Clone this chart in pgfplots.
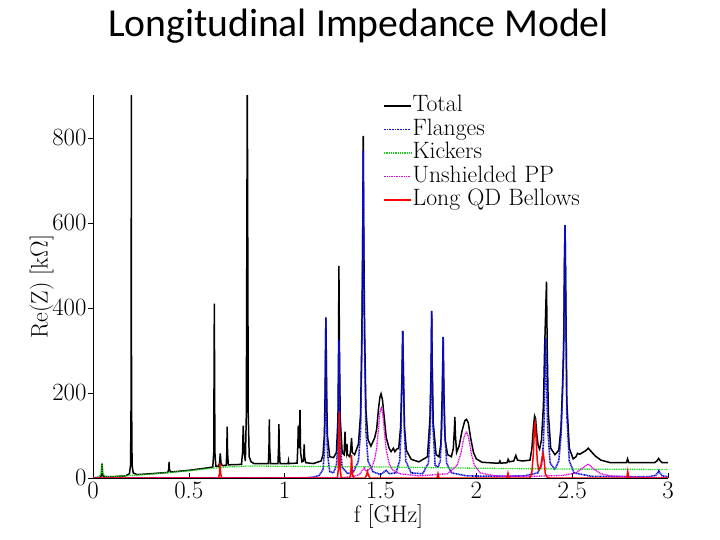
\documentclass[border=0pt]{standalone}
\usepackage{fontspec}
\newfontfamily\titlefont{Carlito}
\usepackage{pgfplots}
\pgfplotsset{compat=1.18}
\definecolor{flblue}{RGB}{10,10,220}
\definecolor{kgreen}{RGB}{20,210,20}
\definecolor{ppmag}{RGB}{220,0,220}
\begin{document}
\begin{tikzpicture}
\useasboundingbox (0,0) rectangle (720bp,540bp);
\node[anchor=base, font=\titlefont\fontsize{39.8}{42}\selectfont] at (358.5bp,503.3bp) {Longitudinal Impedance Model};
\begin{axis}[
  at={(93bp,62bp)}, anchor=south west,
  width=575bp, height=382.5bp, scale only axis,
  xmin=0, xmax=3, ymin=0, ymax=900,
  axis lines=left, axis line style={-, line width=0.6pt},
  xtick={0,0.5,1,1.5,2,2.5,3}, xticklabels={0,0.5,1,1.5,2,2.5,3},
  ytick={0,200,400,600,800},
  xtick align=inside, ytick align=outside,
  major tick length=5bp,
  tick style={black, line width=0.6pt},
  ticklabel style={font=\fontsize{25}{26}\selectfont},
  xticklabel style={yshift=-1bp},
  yticklabel style={xshift=2bp},
  xlabel={f [GHz]}, ylabel={Re(Z) [k$\Omega$]},
  label style={font=\fontsize{24}{25}\selectfont},
  xlabel style={yshift=2bp, xshift=8bp},
  ylabel style={yshift=-8bp},
  clip=true,
  legend cell align=left,
  legend style={draw=none, fill=none, at={(0.504,1.004)}, anchor=north west,
    font=\fontsize{23.8}{23.8}\selectfont, row sep=0pt, inner sep=0pt,
    nodes={inner sep=1bp, text height=16.5bp, text depth=5bp}},
  legend image code/.code={\draw[#1] (0bp,0bp) -- (27bp,0bp);},
]
% Total
\addplot[black, line width=1.5pt] coordinates {
(0,0) (0.04,2) (0.044,8) (0.047,34) (0.050,8) (0.055,3) (0.10,3) (0.17,5) (0.19,10) (0.196,30) (0.199,200) (0.200,950) (0.201,200) (0.204,30) (0.21,12) (0.23,8) (0.30,10) (0.39,13) (0.395,20) (0.397,38) (0.399,20) (0.405,14) (0.50,18) (0.60,24) (0.625,26) (0.630,60) (0.633,410) (0.636,60) (0.641,28) (0.655,28) (0.660,35) (0.664,58) (0.668,35) (0.675,29) (0.695,30) (0.698,60) (0.700,121) (0.702,60) (0.706,31) (0.775,32) (0.780,60) (0.784,123) (0.788,60) (0.795,40) (0.800,150) (0.805,950) (0.810,150) (0.815,50) (0.825,38) (0.84,34) (0.915,34) (0.918,70) (0.920,138) (0.922,70) (0.926,34) (0.965,34) (0.968,70) (0.970,127) (0.972,70) (0.976,34) (1.018,34) (1.020,40) (1.022,34) (1.065,35) (1.069,80) (1.071,123) (1.074,70) (1.077,90) (1.080,160) (1.083,60) (1.090,38) (1.098,40) (1.100,60) (1.102,79) (1.104,50) (1.110,36) (1.15,34) (1.19,40) (1.20,55) (1.207,100) (1.211,200) (1.213,300) (1.215,378) (1.217,300) (1.219,200) (1.223,100) (1.235,50) (1.255,48) (1.270,60) (1.278,140) (1.281,300) (1.283,499) (1.286,300) (1.290,140) (1.300,60) (1.310,55) (1.313,90) (1.315,109) (1.318,70) (1.322,60) (1.325,80) (1.328,55) (1.340,50) (1.345,70) (1.349,94) (1.353,60) (1.365,55) (1.385,80) (1.396,150) (1.403,350) (1.407,560) (1.410,805) (1.413,560) (1.417,350) (1.424,160) (1.435,90) (1.450,75) (1.470,95) (1.480,115) (1.490,165) (1.497,190) (1.503,198) (1.510,185) (1.520,140) (1.530,95) (1.545,70) (1.555,62) (1.567,70) (1.575,62) (1.585,68) (1.595,70) (1.605,120) (1.612,240) (1.616,346) (1.620,240) (1.625,120) (1.635,65) (1.660,44) (1.700,38) (1.745,50) (1.758,140) (1.764,260) (1.767,393) (1.770,260) (1.775,130) (1.790,55) (1.805,50) (1.815,80) (1.822,200) (1.827,332) (1.831,200) (1.837,90) (1.850,55) (1.870,50) (1.880,70) (1.885,110) (1.888,144) (1.891,100) (1.897,60) (1.910,75) (1.925,110) (1.940,135) (1.949,138) (1.958,130) (1.970,95) (1.985,60) (2.000,45) (2.030,37) (2.100,35) (2.118,35) (2.123,40) (2.128,35) (2.160,36) (2.166,44) (2.172,38) (2.195,40) (2.206,53) (2.215,42) (2.240,40) (2.280,42) (2.290,70) (2.298,120) (2.304,146) (2.309,140) (2.316,100) (2.323,75) (2.330,68) (2.340,90) (2.350,170) (2.356,300) (2.361,380) (2.366,462) (2.370,300) (2.376,150) (2.388,70) (2.410,55) (2.430,65) (2.442,120) (2.450,220) (2.456,320) (2.460,520) (2.463,595) (2.467,420) (2.472,180) (2.485,70) (2.505,45) (2.520,50) (2.528,58) (2.540,56) (2.555,60) (2.570,64) (2.584,70) (2.600,62) (2.620,52) (2.650,42) (2.700,36) (2.783,36) (2.789,45) (2.795,36) (2.930,36) (2.942,40) (2.951,46) (2.960,40) (2.970,36) (3.0,36)
};
\addlegendentry{Total}
% Flanges
\addplot[flblue, dash pattern=on 1pt off 0.6pt, line width=1.6pt] coordinates {
(0,0) (1.10,0) (1.15,2) (1.18,6) (1.20,20) (1.207,60) (1.211,150) (1.213,260) (1.215,377) (1.217,260) (1.219,150) (1.223,60) (1.235,15) (1.255,12) (1.270,30) (1.278,80) (1.281,160) (1.284,326) (1.287,160) (1.290,80) (1.300,25) (1.330,10) (1.360,15) (1.385,40) (1.396,110) (1.403,300) (1.407,520) (1.410,770) (1.413,520) (1.417,300) (1.424,110) (1.435,40) (1.460,15) (1.500,8) (1.530,18) (1.545,10) (1.580,12) (1.600,40) (1.607,110) (1.612,230) (1.616,346) (1.620,230) (1.625,110) (1.632,40) (1.660,12) (1.720,10) (1.750,35) (1.760,120) (1.764,240) (1.767,393) (1.770,240) (1.774,120) (1.785,30) (1.800,25) (1.812,40) (1.820,120) (1.824,210) (1.827,332) (1.830,210) (1.834,120) (1.845,35) (1.870,12) (1.950,5) (2.100,4) (2.250,5) (2.320,12) (2.340,30) (2.350,80) (2.355,160) (2.361,330) (2.366,250) (2.372,120) (2.385,35) (2.410,20) (2.430,40) (2.442,100) (2.450,200) (2.455,280) (2.460,500) (2.463,595) (2.467,400) (2.472,150) (2.485,40) (2.510,12) (2.600,4) (2.900,3) (2.935,6) (2.946,12) (2.952,17) (2.958,12) (2.970,5) (3.0,3)
};
\addlegendentry{Flanges}
% Kickers
\addplot[kgreen, dash pattern=on 1pt off 0.8pt, line width=1.3pt] coordinates {
(0,0) (0.03,2) (0.042,10) (0.047,34) (0.052,10) (0.065,3) (0.1,3) (0.2,6) (0.3,9) (0.4,13) (0.5,17) (0.6,22) (0.7,26) (0.8,28) (0.9,28) (1.0,27.5) (1.2,27) (1.5,26) (2.0,23) (2.5,21) (3.0,20)
};
\addlegendentry{Kickers}
% Unshielded PP
\addplot[ppmag, dash pattern=on 1pt off 0.7pt, line width=1.3pt] coordinates {
(0,0) (1.30,1) (1.35,3) (1.39,8) (1.405,18) (1.415,24) (1.425,16) (1.435,18) (1.445,22) (1.455,25) (1.47,45) (1.48,70) (1.49,120) (1.497,155) (1.504,165) (1.512,150) (1.52,110) (1.53,65) (1.545,35) (1.56,20) (1.6,10) (1.7,5) (1.85,10) (1.9,30) (1.92,60) (1.935,95) (1.949,110) (1.96,95) (1.975,55) (1.99,30) (2.02,12) (2.1,5) (2.3,4) (2.45,6) (2.52,12) (2.55,22) (2.584,33) (2.61,22) (2.65,10) (2.7,5) (2.8,2) (3.0,1)
};
\addlegendentry{Unshielded PP}
% Long QD Bellows
\addplot[red, line width=1.5pt] coordinates {
(0,0) (0.655,0) (0.660,10) (0.663,35) (0.666,10) (0.672,0) (1.275,0) (1.280,20) (1.283,100) (1.285,156) (1.287,100) (1.290,20) (1.295,0) (1.340,0) (1.345,10) (1.349,54) (1.353,10) (1.36,0) (1.42,0) (1.428,8) (1.432,15) (1.436,8) (1.445,0) (1.795,0) (1.80,10) (1.805,0) (2.16,0) (2.165,11) (2.17,0) (2.28,0) (2.29,15) (2.298,60) (2.303,120) (2.307,129) (2.311,100) (2.318,40) (2.325,20) (2.335,25) (2.343,45) (2.349,58) (2.354,40) (2.36,10) (2.37,2) (2.38,0) (2.785,0) (2.79,15) (2.795,0) (3.0,0)
};
\addlegendentry{Long QD Bellows}
\end{axis}
\end{tikzpicture}
\end{document}
